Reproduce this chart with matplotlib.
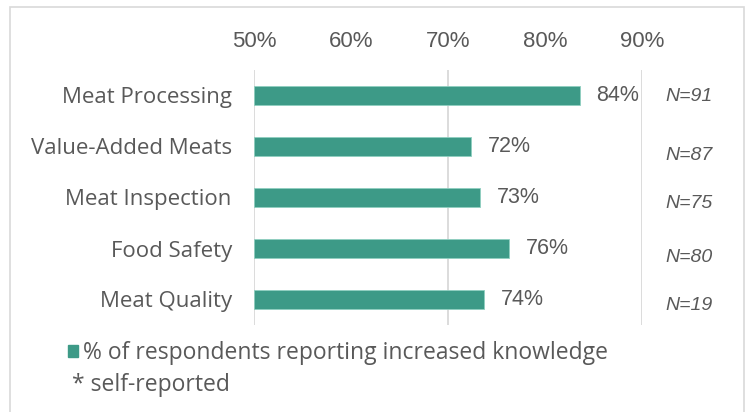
import matplotlib
matplotlib.use("Agg")
import matplotlib.pyplot as plt
from matplotlib.patches import Patch, Rectangle

categories = ["Meat Processing", "Value-Added Meats", "Meat Inspection", "Food Safety", "Meat Quality"]
values = [83.6, 72.4, 73.3, 76.3, 73.7]
value_labels = ["84%", "72%", "73%", "76%", "74%"]
n_labels = ["N=91", "N=87", "N=75", "N=80", "N=19"]
n_offsets = [0.02, 0.18, 0.12, 0.18, 0.12]
xticks = [50, 60, 70, 80, 90]
xtick_labels = ["50%", "60%", "70%", "80%", "90%"]
legend_label = "% of respondents reporting increased knowledge"
note = "* self-reported"

bar_color = "#3D9A87"
text_color = "#595959"
grid_color = "#D9D9D9"

fig = plt.figure(figsize=(7.46, 4.12), dpi=100)
ax = fig.add_axes([254/746, 1-325/412, (642-254)/746, 255/412])

ypos = list(range(len(categories)))
ax.barh(ypos, [v - 50 for v in values], left=50, height=0.36, color=bar_color,
        edgecolor="#8FCFC0", linewidth=0.6, zorder=3)
ax.set_xlim(50, 90)
ax.set_ylim(len(categories) - 0.5, -0.5)

for x in xticks[::2]:
    ax.axvline(x, color=grid_color, lw=1.3, zorder=1)

ax.xaxis.tick_top()
ax.set_xticks(xticks)
ax.set_xticklabels(xtick_labels, fontsize=16, color=text_color, family="Liberation Sans")
ax.tick_params(axis="x", length=0, pad=13)
ax.set_yticks(ypos)
ax.set_yticklabels(categories, fontsize=16, color=text_color, family="Open Sans")
ax.tick_params(axis="y", length=0, pad=16)
for s in ax.spines.values():
    s.set_visible(False)

for y, v, lab in zip(ypos, values, value_labels):
    ax.annotate(lab, (v, y), xytext=(12, 0), textcoords="offset points",
                va="center", ha="left", fontsize=15.5, color=text_color,
                family="Liberation Sans")

for y, lab, off in zip(ypos, n_labels, n_offsets):
    ax.annotate(lab, (90, y + off), xytext=(17, 0), textcoords="offset points",
                va="center", ha="left", fontsize=14, color=text_color,
                family="Liberation Sans", style="italic", annotation_clip=False)

handle = Patch(facecolor=bar_color, edgecolor=bar_color)
fig.legend(handles=[handle], labels=[legend_label], loc="center left",
           bbox_to_anchor=(68/746, 1-353/412), frameon=False,
           borderaxespad=0, borderpad=0,
           handlelength=0.45, handleheight=0.45, handletextpad=0.2,
           prop={"family": "Open Sans", "size": 16.5}, labelcolor=text_color)
fig.text(72/746, 1-385/412, note, fontsize=16.5, color=text_color, family="Open Sans",
         va="center", ha="left")

fig.patches.append(Rectangle((10/746, -0.1), (744-10)/746, 1.1 - 7/412,
                             transform=fig.transFigure, fill=False,
                             edgecolor=grid_color, lw=1.2))

fig.savefig("out.png", dpi=100)
